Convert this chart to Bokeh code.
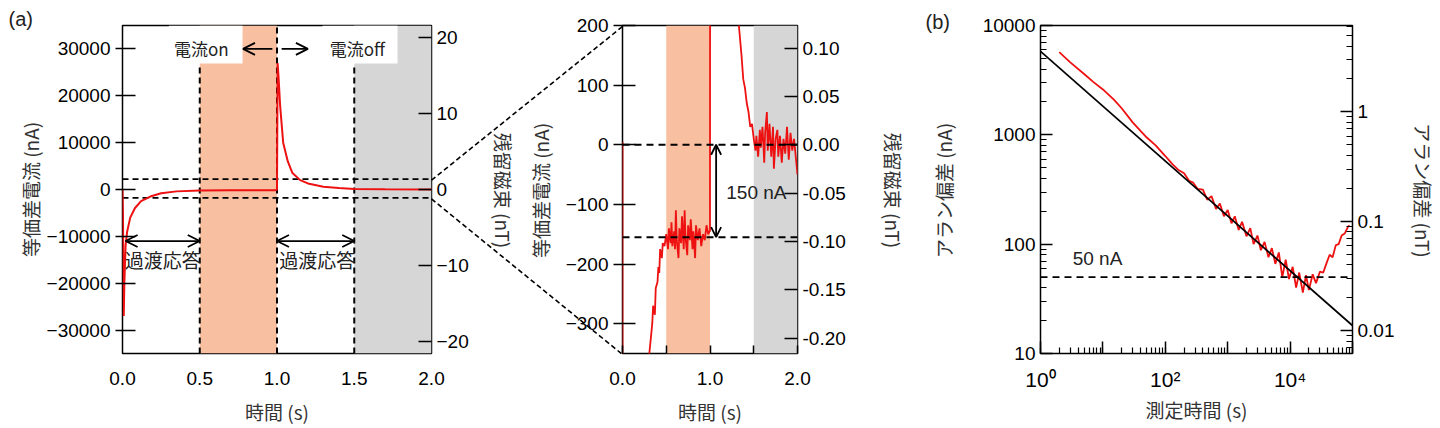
import math
from bokeh.plotting import figure
from bokeh.layouts import row
from bokeh.models import (Range1d, LinearAxis, LogAxis, BoxAnnotation, Arrow, OpenHead, Span,
                          FixedTicker, LogTicker, CustomJSTickFormatter, NumeralTickFormatter)
from bokeh.core.properties import value
from bokeh.embed import file_html
from bokeh.resources import INLINE

# ---------------- data ----------------
t1 = [0.0, 0.003, 0.008, 0.012, 0.02, 0.03, 0.05, 0.08, 0.12, 0.18, 0.25, 0.35, 0.5, 0.7, 0.99, 1.0,
      1.004, 1.01, 1.02, 1.04, 1.07, 1.1, 1.15, 1.2, 1.3, 1.4, 1.5, 1.7, 2.0]
i1 = [0, -5000, -27000, -20000, -12000, -9000, -6000, -4000, -2500, -1500, -800, -400, -200, -150, -150, 0,
      27000, 24000, 18000, 10000, 6000, 3500, 2000, 1300, 600, 300, 100, 30, 0]

t2 = [0.0, 0.001, 0.30, 0.32, 0.34, 0.35, 0.37, 0.38, 0.40, 0.41, 0.42, 0.43, 0.45, 0.46, 0.48, 0.50,
      0.52, 0.53, 0.55, 0.56, 0.57, 0.59, 0.60, 0.61, 0.62, 0.64, 0.65, 0.67, 0.68, 0.70, 0.71, 0.72,
      0.74, 0.75, 0.77, 0.78, 0.80, 0.81, 0.83, 0.84, 0.86, 0.88, 0.90, 0.92, 0.94, 0.96, 0.98, 0.995,
      1.0, 1.001, 1.32, 1.33, 1.36, 1.38, 1.40, 1.42, 1.44, 1.46, 1.48, 1.50, 1.52, 1.53, 1.55, 1.57,
      1.58, 1.60, 1.62, 1.63, 1.65, 1.66, 1.68, 1.70, 1.72, 1.73, 1.75, 1.77, 1.78, 1.80, 1.82, 1.84,
      1.86, 1.88, 1.90, 1.92, 1.94, 1.96, 1.98, 2.0]
i2 = [5, -27000, -360, -330, -300, -270, -285, -240, -230, -205, -215, -175, -190, -165, -170, -150,
      -175, -140, -165, -130, -170, -145, -175, -110, -160, -190, -140, -165, -120, -175, -110, -155,
      -185, -135, -160, -125, -175, -145, -190, -135, -160, -140, -170, -150, -160, -135, -150, -145,
      -145, 300, 250, 200, 150, 110, 95, 70, 55, 30, 35, 10, -10, 15, -20, 25,
      -5, 30, -30, 20, 55, -10, 35, -20, 30, -40, 10, 25, -20, 15, -30, 10,
      -15, 30, -25, 20, -10, 10, -20, -50]

tau3 = [2, 3, 5, 7, 10, 15, 20, 30, 50, 70, 100, 130, 160, 200, 240, 280, 330, 400, 470, 550, 650,
        750, 870, 1000, 1150, 1300, 1500, 1700, 2000, 2300, 2600, 3000, 3400, 3900, 4500, 5100, 5800,
        6600, 7500, 8500, 9600, 11000, 12500, 14000, 16000, 18000, 20000, 23000, 26000, 30000, 34000,
        38000, 43000, 48000, 54000, 60000, 67000, 75000, 85000, 90000]
adev3 = [5700, 4600, 3600, 3050, 2600, 2100, 1750, 1300, 950, 800, 640, 540, 480, 445, 380, 365, 320,
         315, 255, 275, 210, 235, 180, 205, 155, 180, 135, 160, 118, 140, 100, 120, 88, 105, 76, 92, 66,
         84, 50, 72, 48, 62, 40, 55, 36, 52, 38, 53, 44, 56, 55, 66, 80, 76, 98, 100, 120, 125, 145, 148]
fit_tau = [1, 100000]
fit_adev = [5800, 18]
floor_nA = 50

dash_hi, dash_lo = 2200, -1800
offset_level = -155
NT_PER_NA = 1 / 1622.0

FONT = "Liberation Sans"
JP = "Noto Sans CJK JP"
RED = "#ee1111"
TITLE_COLOR = "#333333"

# geometry (page pixels)
TOP, FH, BOT = 25, 328, 72
F1L, F1W, R1 = 122, 309, 60
F2L, F2W, R2 = 622, 175, 110
F3L, F3W, R3 = 1040, 312, 85
L2 = F2L - (F1L + F1W + R1)
L3 = F3L - (F2L + F2W + R2)
YMID = TOP + FH / 2
PAGE_W = F3L + F3W + R3
PAGE_H = TOP + FH + BOT
OV_SHIFT = 24  # vertical offset the row gives the overlay canvas


def style(p):
    p.grid.visible = False
    p.outline_line_color = "black"
    p.outline_line_width = 1.5
    p.background_fill_color = "white"
    for ax in p.axis:
        ax.axis_line_color = None
        ax.major_label_text_font = FONT
        ax.major_label_text_font_size = "19px"
        ax.major_label_text_color = "black"
        ax.axis_label_text_font = JP
        ax.axis_label_text_font_size = "19px"
        ax.axis_label_text_font_style = "normal"
        ax.axis_label_text_color = TITLE_COLOR
        ax.major_tick_line_color = "black"
        ax.major_tick_line_width = 1.5
        ax.minor_tick_line_color = "black"
        ax.minor_tick_line_width = 1.2
    for ax in p.xaxis:
        ax.major_label_standoff = 18
        ax.axis_label_standoff = 10


def jtext(p, x, y, s, size="19px", font=JP, align="center", angle=0.0, color="#222222"):
    p.text(x=[x], y=[y], text=[s], text_font=value(font), text_font_size=size, angle=angle,
           text_align=align, text_baseline="middle", text_color=color)


# ---------------- panel 1 ----------------
y1r = (-35000, 35000)
p1 = figure(frame_width=F1W, frame_height=FH, x_range=Range1d(0, 2), y_range=Range1d(*y1r),
            output_backend="svg", toolbar_location=None,
            min_border_left=F1L, min_border_right=R1, min_border_top=TOP, min_border_bottom=BOT)
p1.extra_y_ranges = {"nt": Range1d(y1r[0] * NT_PER_NA, y1r[1] * NT_PER_NA)}
ax_r1 = LinearAxis(y_range_name="nt", ticker=FixedTicker(ticks=[-20, -10, 0, 10, 20]))
p1.add_layout(ax_r1, "right")
p1.yaxis[0].ticker = FixedTicker(ticks=[-30000, -20000, -10000, 0, 10000, 20000, 30000])
p1.xaxis.ticker = FixedTicker(ticks=[0, 0.5, 1.0, 1.5, 2.0])
p1.xaxis.formatter = NumeralTickFormatter(format="0.0")
p1.xaxis.axis_label = "時間 (s)"
p1.yaxis[0].axis_label = "等価差電流 (nA)"
p1.yaxis[0].axis_label_standoff = 0
style(p1)
p1.yaxis[0].major_tick_in = 13; p1.yaxis[0].major_tick_out = 7
ax_r1.major_tick_in = 13; ax_r1.major_tick_out = 0
p1.xaxis.major_tick_in = 0; p1.xaxis.major_tick_out = 0

p1.add_layout(BoxAnnotation(left=0.5, right=1.0, fill_color="#f8bfa0", fill_alpha=1, line_alpha=0, level="underlay"))
p1.add_layout(BoxAnnotation(left=1.5, right=2.0, fill_color="#d6d6d6", fill_alpha=1, line_alpha=0, level="underlay"))
p1.add_layout(BoxAnnotation(left=0.3, right=0.777, bottom=26900, fill_color="white", fill_alpha=1, line_alpha=0, level="underlay"))
p1.add_layout(BoxAnnotation(left=1.294, right=1.78, bottom=26900, fill_color="white", fill_alpha=1, line_alpha=0, level="underlay"))
p1.segment(x0=[0.5, 1.0, 1.5], y0=[-35000, -35000, -35000], x1=[0.5, 1.0, 1.5], y1=[26900, 35000, 26900],
           line_color="black", line_width=2, line_dash="6 4")
p1.segment(x0=[0, 0], y0=[dash_hi, dash_lo], x1=[2, 2], y1=[dash_hi, dash_lo],
           line_color="black", line_width=1.8, line_dash="6 4")
p1.line(t1, i1, line_color=RED, line_width=2)
for xs, xe in [(0.97, 0.78), (1.03, 1.2)]:
    p1.add_layout(Arrow(end=OpenHead(size=12, line_width=1.8), x_start=xs, y_start=30000, x_end=xe, y_end=30000,
                        line_width=1.8))
for xs, xe in [(0.02, 0.5), (1.0, 1.5)]:
    p1.add_layout(Arrow(start=OpenHead(size=12, line_width=1.8), end=OpenHead(size=12, line_width=1.8),
                        x_start=xs, y_start=-11000, x_end=xe, y_end=-11000, line_width=1.8))
jtext(p1, 0.51, 30000, "電流on", size="17px")
jtext(p1, 1.52, 30000, "電流off", size="17px")
jtext(p1, 0.26, -15000, "過渡応答", size="19px")
jtext(p1, 1.26, -15000, "過渡応答", size="19px")

# ---------------- panel 2 ----------------
y2r = (-350, 200)
p2 = figure(frame_width=F2W, frame_height=FH, x_range=Range1d(0, 2), y_range=Range1d(*y2r),
            output_backend="svg", toolbar_location=None,
            min_border_left=L2, min_border_right=R2, min_border_top=TOP, min_border_bottom=BOT)
p2.border_fill_alpha = 0
p2.extra_y_ranges = {"nt": Range1d(y2r[0] * NT_PER_NA, y2r[1] * NT_PER_NA)}
ax_r2 = LinearAxis(y_range_name="nt", ticker=FixedTicker(ticks=[-0.2, -0.15, -0.1, -0.05, 0, 0.05, 0.1]),
                   formatter=NumeralTickFormatter(format="0.00"))
p2.add_layout(ax_r2, "right")
p2.yaxis[0].ticker = FixedTicker(ticks=[-300, -200, -100, 0, 100, 200])
p2.xaxis.ticker = FixedTicker(ticks=[0, 0.5, 1.0, 1.5, 2.0])
p2.xaxis.major_label_overrides = {0: "0.0", 0.5: "", 1.0: "1.0", 1.5: "", 2.0: "2.0"}
p2.xaxis.axis_label = "時間 (s)"
style(p2)
p2.yaxis[0].major_tick_in = 13; p2.yaxis[0].major_tick_out = 9
ax_r2.major_tick_in = 13; ax_r2.major_tick_out = 0
p2.xaxis.major_tick_in = 8; p2.xaxis.major_tick_out = 0
p2.add_layout(BoxAnnotation(left=0.5, right=1.0, fill_color="#f8bfa0", fill_alpha=1, line_alpha=0, level="underlay"))
p2.add_layout(BoxAnnotation(left=1.5, right=2.0, fill_color="#d6d6d6", fill_alpha=1, line_alpha=0, level="underlay"))
p2.line(t2, i2, line_color=RED, line_width=1.8)
p2.segment(x0=[0, 0], y0=[0, offset_level], x1=[2, 2], y1=[0, offset_level],
           line_color="black", line_width=2, line_dash="7 5")
p2.add_layout(Arrow(start=OpenHead(size=10, line_width=1.8), end=OpenHead(size=10, line_width=1.8),
                    x_start=1.07, y_start=0, x_end=1.07, y_end=offset_level, line_width=1.8))
jtext(p2, 1.53, -80, "150 nA", size="19px", font=FONT)

# ---------------- panel 3 ----------------
y3r = (10, 10000)
p3 = figure(frame_width=F3W, frame_height=FH, x_axis_type="log", y_axis_type="log",
            x_range=Range1d(1, 1e5), y_range=Range1d(*y3r),
            output_backend="svg", toolbar_location=None,
            min_border_left=L3, min_border_right=R3, min_border_top=TOP, min_border_bottom=BOT)
p3.extra_y_ranges = {"nt": Range1d(y3r[0] * NT_PER_NA, y3r[1] * NT_PER_NA)}
ax_r3 = LogAxis(y_range_name="nt", ticker=LogTicker(num_minor_ticks=10))
ax_r3.formatter = CustomJSTickFormatter(code="return (tick >= 1) ? tick.toFixed(0) : tick.toString();")
p3.add_layout(ax_r3, "right")
p3.xaxis.ticker = LogTicker(num_minor_ticks=10)
p3.xaxis.formatter = CustomJSTickFormatter(code="""
const e = Math.round(Math.log10(tick));
if (e % 2 !== 0) return '';
const sup = {'0':'\u2070','1':'\u00b9','2':'\u00b2','3':'\u00b3','4':'\u2074','5':'\u2075'};
return '10' + String(e).split('').map(c => sup[c]).join('');
""")
p3.yaxis[0].ticker = LogTicker(num_minor_ticks=10)
p3.yaxis[0].formatter = CustomJSTickFormatter(code="return tick.toFixed(0);")
p3.xaxis.axis_label = "測定時間 (s)"
style(p3)
p3.xaxis.major_label_standoff = 14
p3.xaxis.axis_label_standoff = 2
p3.xaxis.major_label_text_font_size = "21px"
for ax in [p3.xaxis[0], p3.yaxis[0], ax_r3]:
    ax.major_tick_in = 12; ax.major_tick_out = 0
    ax.minor_tick_in = 6; ax.minor_tick_out = 0
p3.line(tau3, adev3, line_color=RED, line_width=1.8)
p3.line(fit_tau, fit_adev, line_color="black", line_width=1.8)
p3.add_layout(Span(location=floor_nA, dimension="width", line_color="black", line_width=1.8, line_dash="7 5"))
jtext(p3, 8.2, 74, "50 nA", size="19px", font=FONT)

# ---------------- transparent page overlay (titles, panel tags, zoom connectors) ----------------
ov = figure(frame_width=PAGE_W, frame_height=PAGE_H, x_range=Range1d(0, PAGE_W), y_range=Range1d(PAGE_H, 0),
            output_backend="svg", toolbar_location=None, x_axis_type=None, y_axis_type=None,
            min_border=0, margin=(-OV_SHIFT, 0, 0, -PAGE_W))
ov.grid.visible = False
ov.outline_line_color = None
ov.background_fill_alpha = 0
ov.border_fill_alpha = 0


def py1(v):
    return TOP + (y1r[1] - v) / (y1r[1] - y1r[0]) * FH


ov.segment(x0=[F1L + F1W, F1L + F1W], y0=[py1(dash_hi), py1(dash_lo)], x1=[F2L, F2L],
           y1=[TOP, TOP + FH], line_color="black", line_width=1.6, line_dash="5 3")
jtext(ov, 503, YMID, "残留磁束 (nT)", angle=-math.pi / 2, color=TITLE_COLOR)
jtext(ov, 540, YMID, "等価差電流 (nA)", angle=math.pi / 2, color=TITLE_COLOR)
jtext(ov, 893, YMID, "残留磁束 (nT)", angle=-math.pi / 2, color=TITLE_COLOR)
jtext(ov, 943, YMID, "アラン偏差 (nA)", angle=math.pi / 2, color=TITLE_COLOR)
jtext(ov, 1423, YMID, "アラン偏差 (nT)", angle=-math.pi / 2, color=TITLE_COLOR)
jtext(ov, 8, 17, "(a)", size="20px", font=FONT, align="left")
jtext(ov, 925, 20, "(b)", size="20px", font=FONT, align="left")

layout = row(p1, p2, p3, ov, spacing=0)
open("out.html", "w").write(file_html(layout, INLINE))
